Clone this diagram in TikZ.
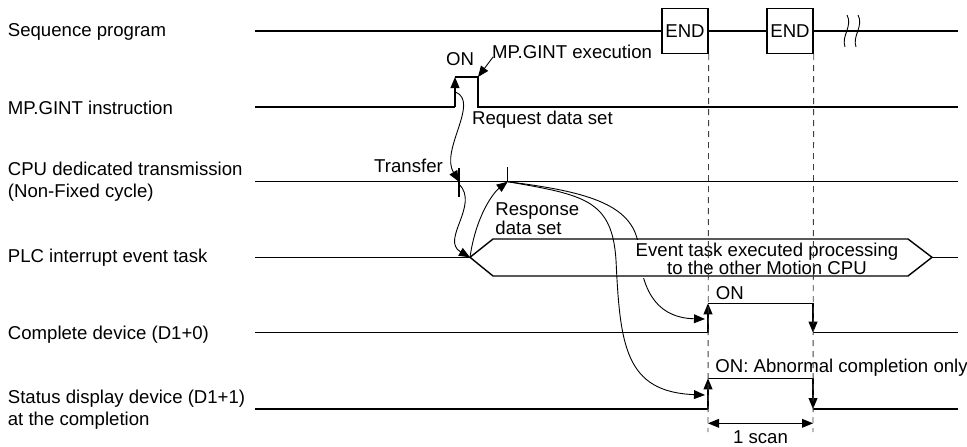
\documentclass[tikz,border=0pt]{standalone}
\usepackage{fontspec}
\setmainfont{Liberation Sans}
\usetikzlibrary{arrows.meta}
\begin{document}
\begin{tikzpicture}[x=0.5pt,y=-0.5pt,
  font=\fontsize{9.3}{11.2}\selectfont,
  sig/.style={line width=0.7pt},
  guide/.style={line width=0.45pt},
  arr/.style={-{Triangle[length=5.5pt,width=4.4pt]}},
  dashline/.style={line width=0.45pt, black!75, dash pattern=on 3pt off 2.5pt},
  rowname/.style={anchor=west, inner sep=0pt, align=left},
  note/.style={anchor=west, inner sep=0pt},
  endbox/.style={draw, line width=0.7pt, minimum width=23pt, minimum height=22.5pt, inner sep=0pt}]
\useasboundingbox (0,0) rectangle (967,446);
\node[rowname] (seqlbl) at (7.5,31.7) {Sequence program};
\node[rowname] (gintlbl) at (7.5,108) {MP.GINT instruction};
\node[rowname, font=\fontsize{9.3}{11.3}\selectfont] (cpulbl) at (7.5,181.5) {CPU dedicated transmission\\(Non-Fixed cycle)};
\node[rowname] (plclbl) at (7.5,258) {PLC interrupt event task};
\node[rowname] (donelbl) at (7.5,335) {Complete device (D1+0)};
\node[rowname, font=\fontsize{9.3}{10.9}\selectfont] (statlbl) at (7.5,409.5) {Status display device (D1+1)\\at the completion};

\coordinate (s0) at (255,31);
\coordinate (s1) at (958,31);
\node[endbox] (end1) at (685,31) {END};
\node[endbox] (end2) at (790,31) {END};
\draw[sig] (s0) -- (end1) -- (end2) -- (s1);
\draw[guide] (847,15) .. controls (853,26) and (841,36) .. (845,47);
\draw[guide] (858,15) .. controls (864,26) and (852,36) .. (856,47);

\coordinate (g0) at (255,107);
\coordinate (gup0) at (455,107);
\coordinate (gup1) at (455,77);
\coordinate (gdn0) at (478,77);
\coordinate (gdn1) at (478,107);
\coordinate (g1) at (958,107);
\draw[sig] (g0) -- (gup0);
\draw[sig,arr] (gup0) -- (gup1);
\draw[sig] (gup1) -- (gdn0) -- (gdn1) -- (g1);
\node (ontxt) at (460,59) {ON};
\node[note] (exectxt) at (491.7,51.7) {MP.GINT execution};
\coordinate (execfoot) at (493,57);
\draw[guide,arr] (execfoot) -- (gdn0);
\node[note] (reqtxt) at (471.7,120) {Request data set};

\coordinate (c0) at (255,181.7);
\coordinate (c1) at (958,181.7);
\coordinate (tk1) at (459,181.7);
\coordinate (tk2) at (507.7,181.7);
\draw[sig] (c0) -- (c1);
\draw[sig] (459,168) -- (459,197);
\draw[sig] (507.7,167) -- (507.7,182);
\node (xfertxt) at (408.5,166) {Transfer};
\draw[guide,arr] (455.5,92) .. controls (480,102) and (440,150) .. (tk1);

\coordinate (p0) at (255,257.3);
\coordinate (hexL) at (470,257.3);
\coordinate (hexTL) at (493,239);
\coordinate (hexTR) at (908,239);
\coordinate (hexR) at (932,257.3);
\coordinate (hexBR) at (908,276);
\coordinate (hexBL) at (493,276);
\coordinate (p1) at (958,257.3);
\draw[guide,arr] (459,184) .. controls (480,205) and (440,240) .. (hexL);
\draw[guide,arr] (hexL) .. controls (476,215) and (494,192) .. (tk2);
\node[note, font=\fontsize{9.3}{8.3}\selectfont, align=left] (resptxt) at (495,219) {Response\\data set};

\coordinate (dtip) at (705,319);
\coordinate (stip) at (705,395);
\draw[guide,arr] (tk2) .. controls (590,192) and (636,205) .. (639,250)
  .. controls (642,295) and (660,318) .. (dtip);
\draw[guide,arr] (tk2) .. controls (585,195) and (612,200) .. (616,260)
  .. controls (620,345) and (625,392) .. (stip);

\node[fill=white, inner sep=1.5pt, align=center, font=\fontsize{9.3}{9.2}\selectfont] (evttxt) at (767,259) {Event task executed processing\\to the other Motion CPU};
\draw[sig] (p0) -- (hexL);
\draw[sig] (hexL) -- (hexTL) -- (hexTR) -- (hexR) -- (hexBR) -- (hexBL) -- cycle;
\draw[sig] (hexR) -- (p1);

\coordinate (d0) at (255,332.7);
\coordinate (dup0) at (708,332.7);
\coordinate (dup1) at (708,303.3);
\coordinate (ddn0) at (813,303.3);
\coordinate (ddn1) at (813,332.7);
\coordinate (d1) at (958,332.7);
\draw[sig] (d0) -- (dup0);
\draw[sig,arr] (dup0) -- (dup1);
\draw[sig] (dup1) -- (ddn0);
\draw[sig,arr] (ddn0) -- (ddn1);
\draw[sig] (ddn1) -- (d1);
\node[note] (dontxt) at (715.5,293) {ON};

\coordinate (e0) at (255,409);
\coordinate (eup0) at (708,409);
\coordinate (eup1) at (708,378.3);
\coordinate (edn0) at (813,378.3);
\coordinate (edn1) at (813,409);
\coordinate (e1) at (958,409);
\draw[sig] (e0) -- (eup0);
\draw[sig,arr] (eup0) -- (eup1);
\draw[sig] (eup1) -- (edn0);
\draw[sig,arr] (edn0) -- (edn1);
\draw[sig] (edn1) -- (e1);
\node[note] (sontxt) at (715,367.7) {ON: Abnormal completion only};

\coordinate (v1) at (708,432);
\coordinate (v2) at (813,432);
\draw[dashline] (end1.south east) -- (v1);
\draw[dashline] (end2.south east) -- (v2);
\coordinate (sc0) at (708,423.3);
\coordinate (sc1) at (813,423.3);
\draw[guide,{Triangle[length=5.5pt,width=4.4pt]}-{Triangle[length=5.5pt,width=4.4pt]}] (sc0) -- (sc1);
\node (scantxt) at (760.5,437.5) {1 scan};
\end{tikzpicture}
\end{document}
